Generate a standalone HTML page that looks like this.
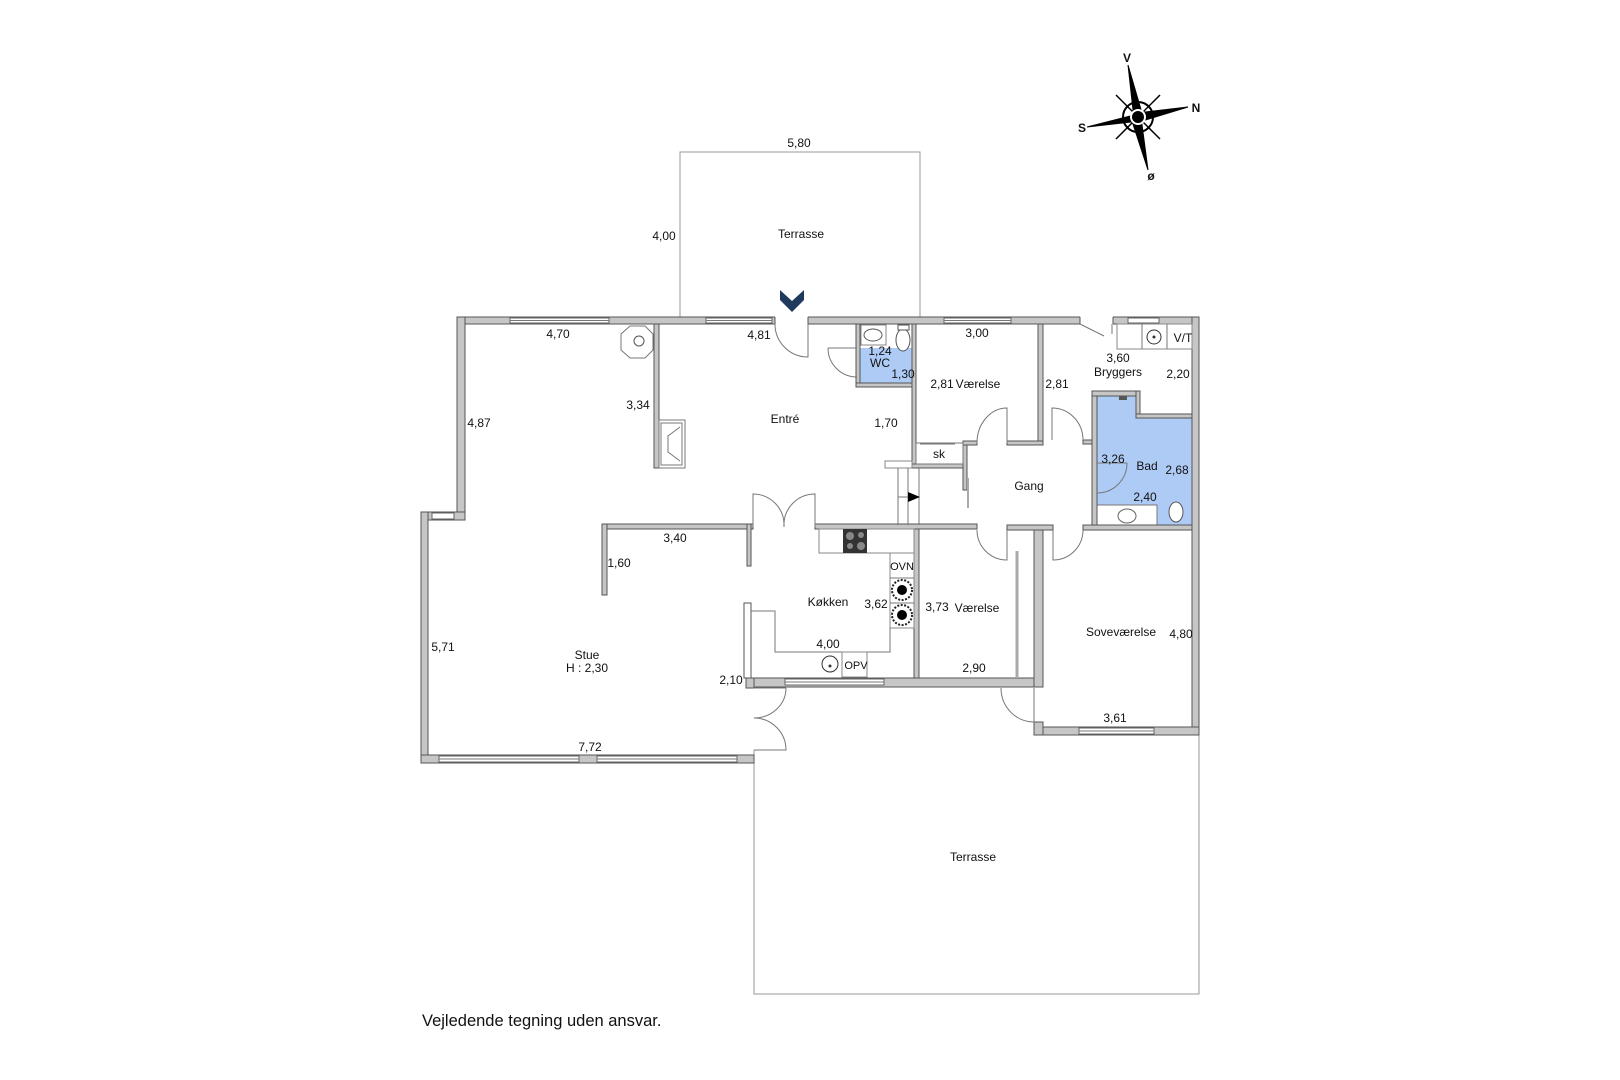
<!DOCTYPE html>
<html><head><meta charset="utf-8"><style>
html,body{margin:0;padding:0;background:#fff;}
svg{display:block;font-family:"Liberation Sans",Arial,sans-serif;}
.w{fill:#c6c6c6;stroke:#555;stroke-width:1;}
.win{fill:#fff;stroke:#666;stroke-width:1;}
.l{fill:none;stroke:#777;stroke-width:1;}
.t{font-size:12px;fill:#111;text-anchor:middle;}
</style></head><body>
<svg width="1620" height="1080" viewBox="0 0 1620 1080" xmlns="http://www.w3.org/2000/svg">
<rect x="680" y="152" width="240" height="165" fill="none" stroke="#999" stroke-width="1"/>
<polyline points="754,750 754,994 1199,994 1199,735" fill="none" stroke="#999" stroke-width="1"/>
<rect x="860" y="348" width="52" height="35" fill="#aecbf6"/>
<polygon points="1097,396 1140,396 1140,418 1192,418 1192,525 1097,525" fill="#aecbf6" stroke="#555" stroke-width="1"/>
<rect x="1097" y="505" width="60" height="20" fill="#fff" stroke="#777"/>
<rect class="w" x="457" y="317" width="742" height="7"/>
<rect class="w" x="457" y="317" width="8" height="203"/>
<rect class="w" x="421" y="512" width="44" height="8"/>
<rect class="w" x="421" y="512" width="7" height="251"/>
<rect class="w" x="421" y="755" width="333" height="8"/>
<rect class="w" x="746" y="678" width="297" height="9"/>
<rect class="w" x="746" y="678" width="8" height="10"/>
<rect class="w" x="1192" y="317" width="7" height="418"/>
<rect class="w" x="1034" y="727" width="165" height="8"/>
<rect class="w" x="1034" y="722" width="9" height="13"/>
<rect class="w" x="1034" y="530" width="9" height="157"/>
<rect x="775" y="316" width="33" height="9" fill="#fff"/>
<rect x="1080" y="316" width="33" height="9" fill="#fff"/>
<line x1="775" y1="317" x2="775" y2="324" stroke="#555"/><line x1="808" y1="317" x2="808" y2="324" stroke="#555"/>
<line x1="1080" y1="317" x2="1080" y2="324" stroke="#555"/><line x1="1113" y1="317" x2="1113" y2="324" stroke="#555"/>
<rect class="win" x="510" y="318" width="99" height="5"/><line class="l" x1="510" y1="320.5" x2="609" y2="320.5"/>
<rect class="win" x="706" y="318" width="66" height="5"/><line class="l" x1="706" y1="320.5" x2="772" y2="320.5"/>
<rect class="win" x="944" y="318" width="67" height="5"/><line class="l" x1="944" y1="320.5" x2="1011" y2="320.5"/>
<rect class="win" x="1128" y="318" width="31" height="5"/>
<rect class="win" x="432" y="513" width="22" height="6"/>
<rect class="win" x="439" y="756" width="140" height="6"/><line class="l" x1="439" y1="759" x2="579" y2="759"/>
<rect class="win" x="597" y="756" width="140" height="6"/><line class="l" x1="597" y1="759" x2="737" y2="759"/>
<rect class="win" x="785" y="679" width="99" height="6"/><line class="l" x1="785" y1="682" x2="884" y2="682"/>
<rect class="win" x="1079" y="728" width="75" height="6"/><line class="l" x1="1079" y1="731" x2="1154" y2="731"/>
<rect class="w" x="654" y="324" width="5" height="144"/>
<rect class="w" x="856" y="324" width="4" height="63"/>
<rect class="w" x="856" y="383" width="60" height="4"/>
<rect class="w" x="912" y="324" width="4" height="144"/>
<rect class="w" x="912" y="464" width="55" height="4"/>
<rect class="w" x="963" y="441" width="4" height="49"/>
<rect class="w" x="963" y="441" width="14" height="4"/>
<rect class="w" x="1038" y="324" width="5" height="121"/>
<rect class="w" x="1007" y="441" width="36" height="4"/>
<rect class="w" x="1083" y="440" width="14" height="4"/>
<rect class="w" x="1092" y="391" width="5" height="139"/>
<rect class="w" x="1092" y="391" width="48" height="5"/>
<rect class="w" x="1136" y="391" width="4" height="27"/>
<rect class="w" x="1136" y="414" width="56" height="4"/>
<rect class="w" x="602" y="524" width="151" height="5"/>
<rect class="w" x="602" y="524" width="5" height="71"/>
<rect class="w" x="747" y="524" width="4" height="42"/>
<rect class="w" x="815" y="524" width="162" height="5"/>
<rect class="w" x="1007" y="525" width="46" height="5"/>
<rect class="w" x="1083" y="525" width="109" height="5"/>
<rect class="w" x="914" y="529" width="5" height="149"/>
<rect class="w" x="744" y="603" width="7" height="75" style="fill:#fff"/>
<polygon points="630,326 645,326 653,334 653,350 645,358 630,358 621,350 621,334" fill="#fff" stroke="#777"/>
<circle cx="639" cy="341" r="5" fill="none" stroke="#555"/>
<rect x="659" y="420" width="26" height="48" fill="#fff" stroke="#777"/>
<rect x="661" y="423" width="21" height="42" fill="none" stroke="#777"/>
<polyline points="680,427 668,436 668,452 680,461" fill="none" stroke="#777"/>
<rect x="861" y="325" width="25" height="20" fill="#fff" stroke="#888"/>
<ellipse cx="873" cy="335" rx="9" ry="6" fill="none" stroke="#555"/>
<ellipse cx="903" cy="340" rx="7" ry="11" fill="#fff" stroke="#555"/>
<rect x="898" y="325" width="11" height="5" fill="#fff" stroke="#555"/>
<rect x="916" y="443" width="47" height="21" fill="#fff" stroke="#777"/>
<line class="l" x1="920" y1="444" x2="955" y2="444"/>
<rect x="885" y="461" width="27" height="7" fill="#fff" stroke="#888"/>
<line class="l" x1="898" y1="468" x2="898" y2="525"/><line class="l" x1="908" y1="468" x2="908" y2="525"/><line class="l" x1="919" y1="468" x2="919" y2="525"/>
<line class="l" x1="898" y1="497" x2="908" y2="497"/>
<polygon points="908,492 920,497 908,502" fill="#000"/>
<line x1="968" y1="478" x2="968" y2="508" stroke="#aaa" stroke-width="2"/>
<line x1="1017" y1="551" x2="1017" y2="677" stroke="#aaa" stroke-width="3"/>
<rect x="1117" y="324" width="75" height="25" fill="#fff" stroke="#888"/>
<line class="l" x1="1142" y1="324" x2="1142" y2="349"/><line class="l" x1="1167" y1="324" x2="1167" y2="349"/>
<circle cx="1154" cy="337" r="7" fill="none" stroke="#333"/><circle cx="1154" cy="337" r="1.5" fill="#333"/>
<ellipse cx="1127" cy="516" rx="9" ry="7" fill="none" stroke="#666"/>
<ellipse cx="1176" cy="512" rx="7" ry="10" fill="#fff" stroke="#555"/>
<rect x="1119" y="396" width="8" height="4" fill="#555"/>
<rect x="819" y="529" width="95" height="24" fill="#fff" stroke="#888"/>
<rect x="843" y="529" width="24" height="24" fill="#333"/>
<circle cx="850" cy="536" r="4" fill="#888"/><circle cx="861" cy="535" r="3" fill="#888"/>
<circle cx="850" cy="546" r="3" fill="#888"/><circle cx="861" cy="546" r="4" fill="#888"/>
<rect x="890" y="553" width="24" height="75" fill="#fff" stroke="#888"/>
<line class="l" x1="890" y1="578" x2="914" y2="578"/><line class="l" x1="890" y1="603" x2="914" y2="603"/>
<circle cx="902" cy="590" r="10" fill="#fff" stroke="#222" stroke-dasharray="2 1.5" stroke-width="2"/><circle cx="902" cy="590" r="5" fill="#000"/>
<circle cx="902" cy="615" r="10" fill="#fff" stroke="#222" stroke-dasharray="2 1.5" stroke-width="2"/><circle cx="902" cy="615" r="5" fill="#000"/>
<polyline class="l" points="751,611 775,611 775,652 890,652 890,628"/>
<rect x="842" y="652" width="25" height="25" fill="#fff" stroke="#888"/>
<circle cx="830" cy="664" r="8" fill="none" stroke="#333"/><circle cx="830" cy="666" r="1.5" fill="#333"/>
<g class="l" stroke="#666">
<path d="M775,324 A33,33 0 0 0 808,357 L808,324"/>
<path d="M828,348 L857,348 M828,348 A29,29 0 0 0 857,377"/>
<path d="M753,527 L753,494 A31,31 0 0 1 784,527 A31,31 0 0 1 815,494 L815,527"/>
<path d="M977,443 A30,35 0 0 1 1007,408 L1007,443"/>
<path d="M1083,440 A31,32 0 0 0 1052,408 L1052,440"/>
<path d="M1127,463 A30,30 0 0 1 1097,493 M1097,463 L1127,463"/>
<path d="M977,530 A30,30 0 0 0 1007,560 L1007,530"/>
<path d="M1083,530 A30,30 0 0 1 1053,560 L1053,530"/>
<path d="M1001,688 A33,34 0 0 0 1034,722 L1034,688"/>
<path d="M786,688 L754,688 M786,688 A32,30 0 0 1 754,718 A32,32 0 0 1 786,750 L754,750"/>
<path d="M1080,324 L1104,336 M1112,324 L1112,334"/>
</g>
<polygon points="780,290 792,301 804,290 804,300 792,312 780,300" fill="#1f3a5c"/>
<g fill="#000" stroke="#000" stroke-width="1">
<line x1="1116" y1="95" x2="1160" y2="139" stroke-width="1.5"/>
<line x1="1160" y1="95" x2="1116" y2="139" stroke-width="1.5"/>
<circle cx="1138" cy="117" r="15" fill="none" stroke-width="2"/>
<polygon points="1128,65 1142,113 1134,119" />
<polygon points="1188,107 1142,121 1136,113" />
<polygon points="1087,127 1134,115 1140,121" />
<polygon points="1148,170 1132,121 1141,117" />
<circle cx="1138" cy="117" r="7" fill="#000" stroke="#fff" stroke-width="2"/>
</g>
<g class="t" style="font-size:12px;font-weight:bold">
<text x="1127" y="62">V</text><text x="1196" y="112">N</text><text x="1082" y="132">S</text><text x="1151" y="180">ø</text>
</g>
<g class="t">
<text x="799" y="147">5,80</text><text x="664" y="240">4,00</text><text x="801" y="238">Terrasse</text>
<text x="558" y="338">4,70</text><text x="759" y="339">4,81</text><text x="638" y="409">3,34</text><text x="479" y="427">4,87</text>
<text x="785" y="423">Entré</text><text x="886" y="427">1,70</text>
<text x="880" y="355">1,24</text><text x="880" y="367">WC</text><text x="903" y="378">1,30</text>
<text x="977" y="337">3,00</text><text x="942" y="388">2,81</text><text x="978" y="388">Værelse</text><text x="1057" y="388">2,81</text>
<text x="1118" y="362">3,60</text><text x="1118" y="376">Bryggers</text><text x="1178" y="378">2,20</text><text x="1183" y="342">V/T</text>
<text x="939" y="458">sk</text><text x="1029" y="490">Gang</text>
<text x="1113" y="463">3,26</text><text x="1147" y="470">Bad</text><text x="1177" y="474">2,68</text><text x="1145" y="501">2,40</text>
<text x="675" y="542">3,40</text><text x="619" y="567">1,60</text>
<text x="828" y="606">Køkken</text><text x="876" y="608">3,62</text><text x="828" y="648">4,00</text><text x="856" y="669" style="font-size:11px">OPV</text>
<text x="902" y="570" style="font-size:11px">OVN</text>
<text x="937" y="611">3,73</text><text x="977" y="612">Værelse</text><text x="974" y="672">2,90</text>
<text x="1121" y="636">Soveværelse</text><text x="1181" y="638">4,80</text><text x="1115" y="722">3,61</text>
<text x="587" y="659">Stue</text><text x="587" y="672">H : 2,30</text><text x="443" y="651">5,71</text><text x="731" y="684">2,10</text><text x="590" y="751">7,72</text>
<text x="973" y="861">Terrasse</text>
</g>
<text x="422" y="1026" style="font-size:16.5px;fill:#111">Vejledende tegning uden ansvar.</text>
</svg>
</body></html>
